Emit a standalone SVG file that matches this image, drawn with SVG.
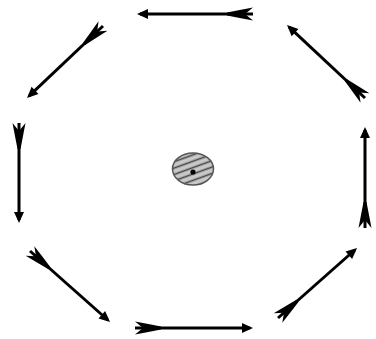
<svg xmlns="http://www.w3.org/2000/svg" width="376" height="339" viewBox="0 0 376 339">
<style>
.shaft{stroke:#000;stroke-width:3;fill:none;marker-start:url(#fletch);marker-end:url(#head)}
</style>
<defs>
<marker id="head" markerUnits="userSpaceOnUse" orient="auto" refX="0" refY="0" markerWidth="20" markerHeight="20" overflow="visible">
<polygon points="3,0 -8,-5 -8,5" fill="#000"/>
</marker>
<marker id="fletch" markerUnits="userSpaceOnUse" orient="auto" refX="0" refY="0" markerWidth="40" markerHeight="20" overflow="visible">
<polygon points="0,-6.5 12,-4.2 26,-1.5 26,1.5 12,4.2 0,6.5 8,0" fill="#000"/>
</marker>
<pattern id="hatch" patternUnits="userSpaceOnUse" width="6" height="6" patternTransform="rotate(-20)">
<rect width="6" height="6" fill="#c8c8c8"/>
<line x1="0" y1="1.5" x2="6" y2="1.5" stroke="#444" stroke-width="1.6"/>
</pattern>
</defs>
<g id="connectors">
<line class="shaft" x1="253" y1="14" x2="140" y2="14"/>
<line class="shaft" x1="103" y1="26" x2="29.2" y2="95.9"/>
<line class="shaft" x1="19" y1="123" x2="19" y2="220"/>
<line class="shaft" x1="30" y1="251" x2="107.8" y2="320"/>
<line class="shaft" x1="135" y1="328" x2="250" y2="328"/>
<line class="shaft" x1="278" y1="318" x2="354.8" y2="250"/>
<line class="shaft" x1="365" y1="228" x2="365" y2="130"/>
<line class="shaft" x1="365" y1="98" x2="289.2" y2="27.1"/>
</g>
<g id="center">
<ellipse cx="193" cy="169" rx="20.5" ry="16" fill="url(#hatch)" stroke="#555" stroke-width="1.5"/>
<circle cx="193" cy="172" r="2.6" fill="#000"/>
</g>
</svg>
